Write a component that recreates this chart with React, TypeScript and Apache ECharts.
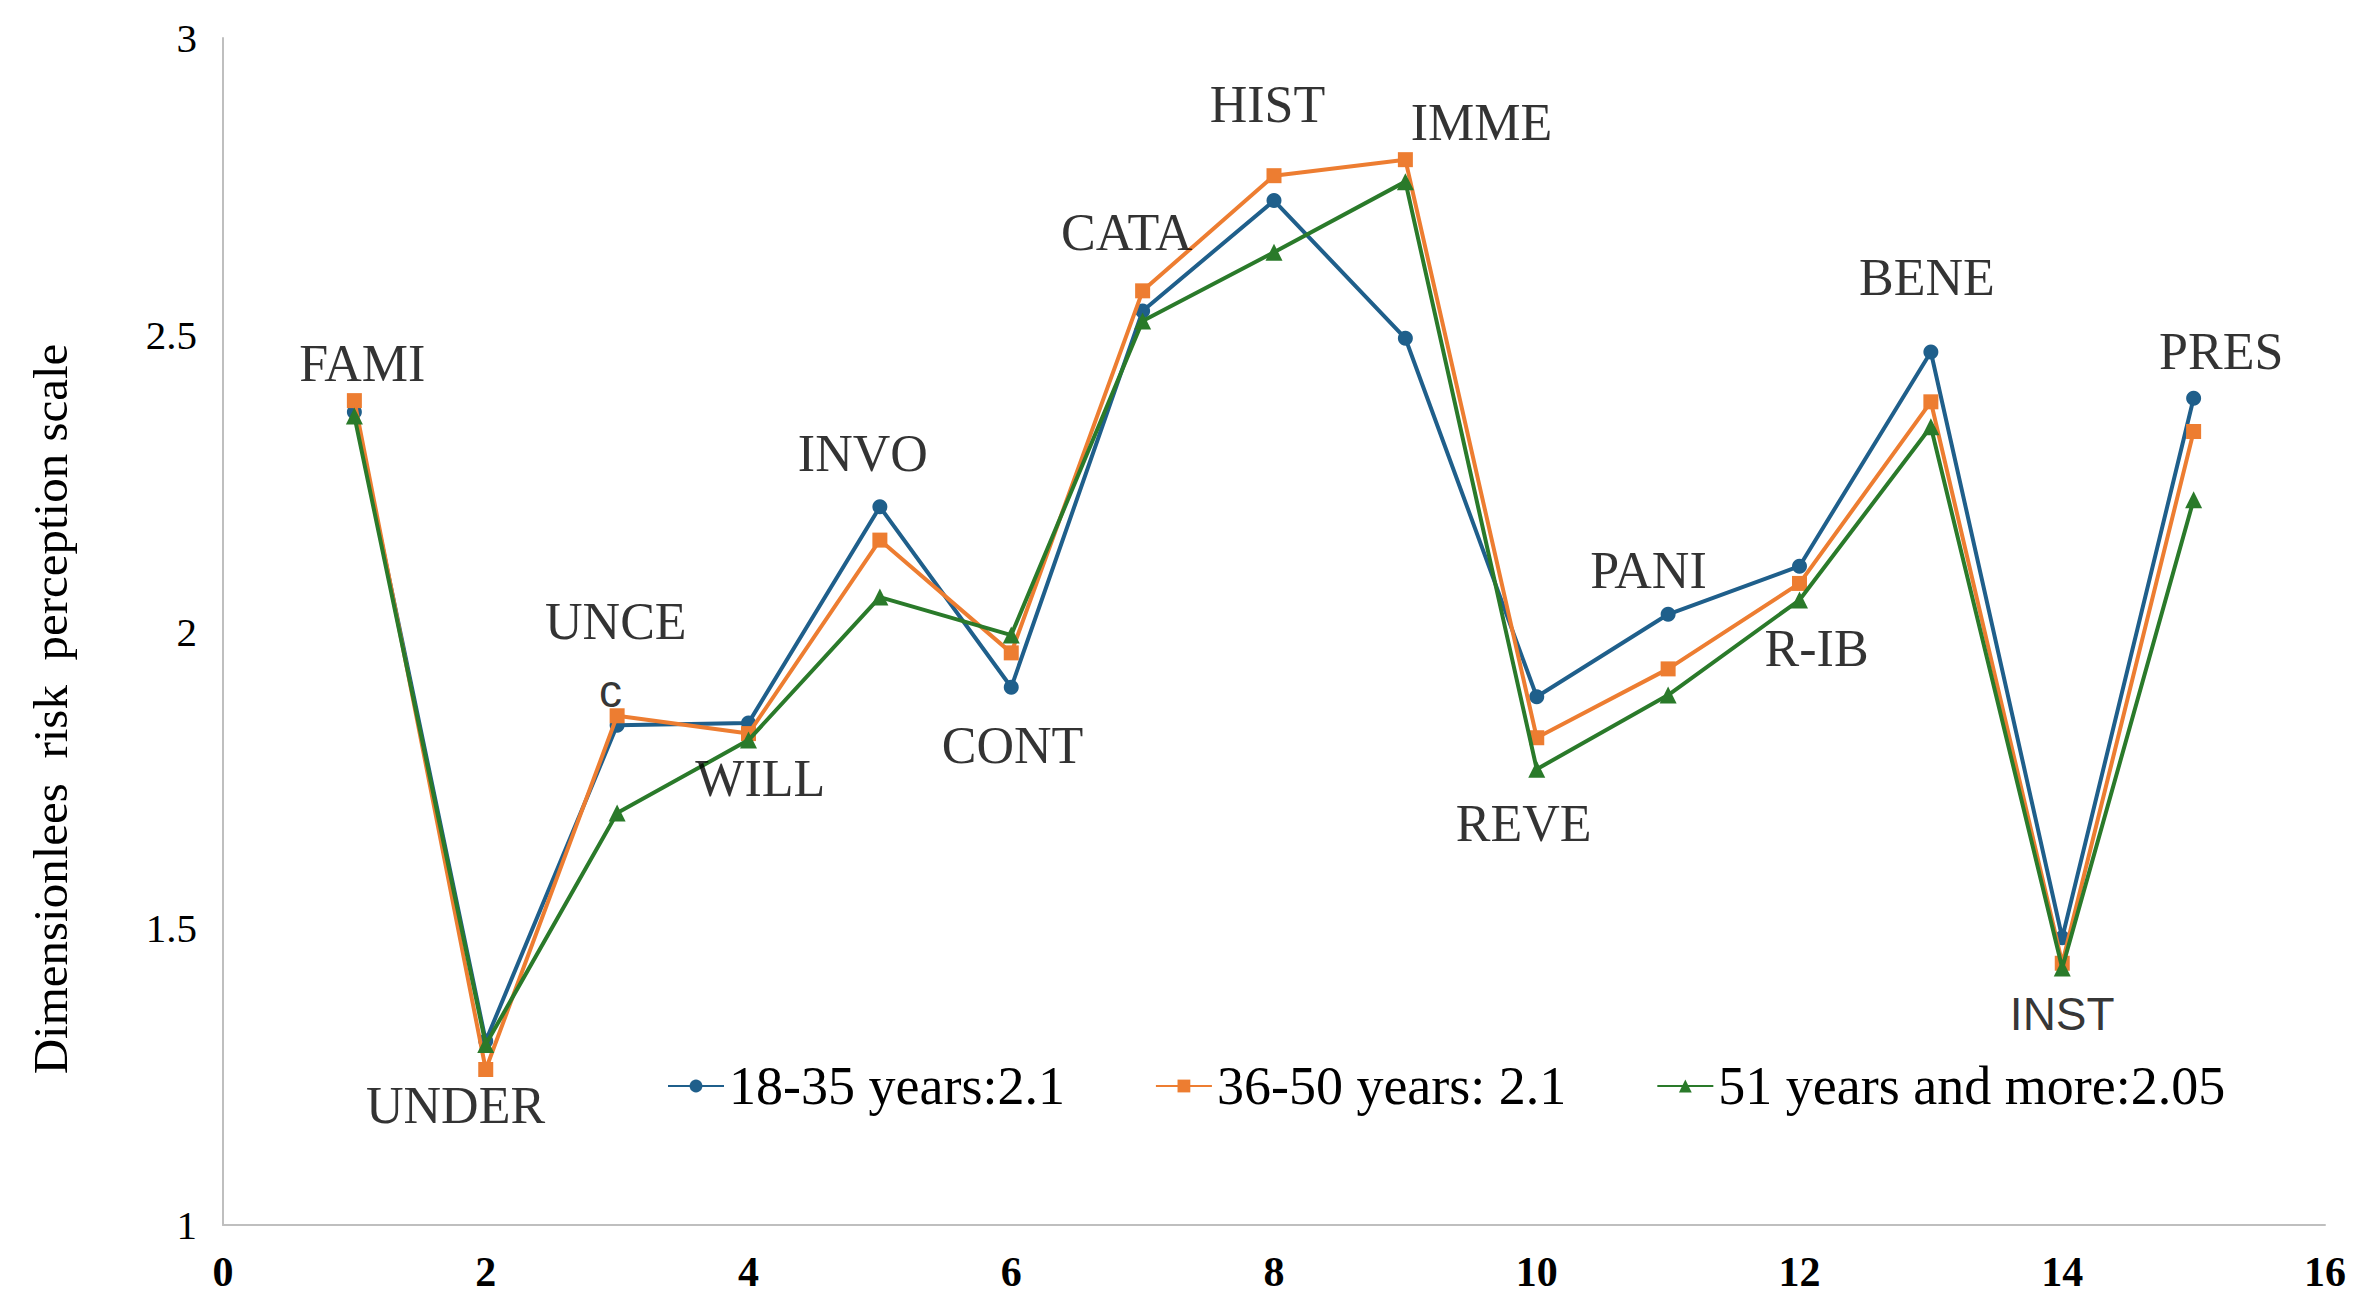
import React, { useEffect, useRef } from "react";
import * as echarts from "echarts";

const xValues = [1, 2, 3, 4, 5, 6, 7, 8, 9, 10, 11, 12, 13, 14, 15];
const young = [2.37, 1.31, 1.842, 1.846, 2.21, 1.906, 2.54, 2.726, 2.494, 1.89, 2.029, 2.11, 2.471, 1.484, 2.393];
const middle = [2.389, 1.262, 1.858, 1.828, 2.154, 1.964, 2.574, 2.768, 2.795, 1.821, 1.937, 2.081, 2.387, 1.441, 2.337];
const older = [2.363, 1.304, 1.694, 1.817, 2.058, 1.994, 2.523, 2.639, 2.758, 1.768, 1.893, 2.053, 2.345, 1.433, 2.222];
const seriesNames = ["18-35 years:2.1", "36-50 years: 2.1", "51 years and more:2.05"];

const labelNames = ["FAMI", "UNDER", "UNCE", "c", "WILL", "INVO", "CONT", "CATA", "HIST", "IMME", "REVE", "PANI", "R-IB", "BENE", "INST", "PRES"];
const labelX = [1.06, 1.77, 2.99, 2.95, 4.09, 4.87, 6.01, 6.88, 7.95, 9.58, 9.9, 10.85, 12.13, 12.97, 14.0, 15.21];
const labelY = [2.451, 1.201, 2.017, 1.9, 1.752, 2.3, 1.808, 2.672, 2.888, 2.858, 1.676, 2.103, 1.971, 2.596, 1.356, 2.471];
const sansLabels = ["c", "INST"];

const SERIF = "'Liberation Serif', 'Times New Roman', serif";
const SANS = "'Liberation Sans', Arial, sans-serif";

export default function App() {
  const ref = useRef<HTMLDivElement>(null);
  useEffect(() => {
    if (!ref.current) return;
    const chart = echarts.init(ref.current, undefined, { renderer: "svg" });
    const colors = ["#1f5f8b", "#ed7d31", "#2a7a2a"];
    const symbols = ["circle", "rect", "triangle"];
    const sizes = [15, 15, 17];
    const dataSets = [young, middle, older];
    const lineSeries = dataSets.map((d, i) => ({
      type: "line",
      name: seriesNames[i],
      data: xValues.map((x, j) => [x, d[j]]),
      symbol: symbols[i],
      symbolSize: sizes[i],
      showAllSymbol: true,
      itemStyle: { color: colors[i] },
      lineStyle: { color: colors[i], width: 4 },
      z: 3 + i,
    }));
    const labelSeries = {
      type: "scatter",
      name: "labels",
      symbolSize: 0,
      silent: true,
      z: 10,
      data: labelNames.map((n, i) => ({
        name: n,
        value: [labelX[i], labelY[i]],
        label: {
          show: true,
          position: "inside",
          formatter: n,
          fontSize: sansLabels.includes(n) ? 46 : 52,
          color: "#000",
          fontFamily: sansLabels.includes(n) ? SANS : SERIF,
        },
      })),
    };
    chart.setOption({
      animation: false,
      backgroundColor: "#fff",
      grid: { left: 223, right: 41, top: 38, bottom: 89, containLabel: false },
      xAxis: {
        type: "value",
        min: 0,
        max: 16,
        interval: 2,
        axisLine: { show: true, lineStyle: { color: "#bfbfbf", width: 2 } },
        axisTick: { show: false },
        splitLine: { show: false },
        axisLabel: { fontSize: 42, fontWeight: "bold", color: "#000", fontFamily: SERIF, margin: 26 },
      },
      yAxis: {
        type: "value",
        min: 1,
        max: 3,
        interval: 0.5,
        axisLine: { show: true, lineStyle: { color: "#bfbfbf", width: 2 } },
        axisTick: { show: false },
        splitLine: { show: false },
        axisLabel: { fontSize: 41, color: "#000", fontFamily: SERIF, margin: 26 },
      },
      legend: {
        data: seriesNames,
        left: 662,
        top: 1054,
        itemWidth: 56,
        itemHeight: 16,
        itemGap: 90,
        textStyle: { fontSize: 54, color: "#000", fontFamily: SERIF },
      },
      graphic: [
        {
          type: "text",
          x: 50,
          y: 709,
          rotation: Math.PI / 2,
          style: {
            text: "Dimensionlees  risk  perception scale",
            fontSize: 49,
            fontFamily: SERIF,
            fill: "#000",
            align: "center",
            verticalAlign: "middle",
          },
        },
      ],
      series: [...lineSeries, labelSeries],
    });
    return () => chart.dispose();
  }, []);
  return <div ref={ref} style={{ position: "absolute", left: 0, top: 0, width: 2366, height: 1314 }} />;
}
